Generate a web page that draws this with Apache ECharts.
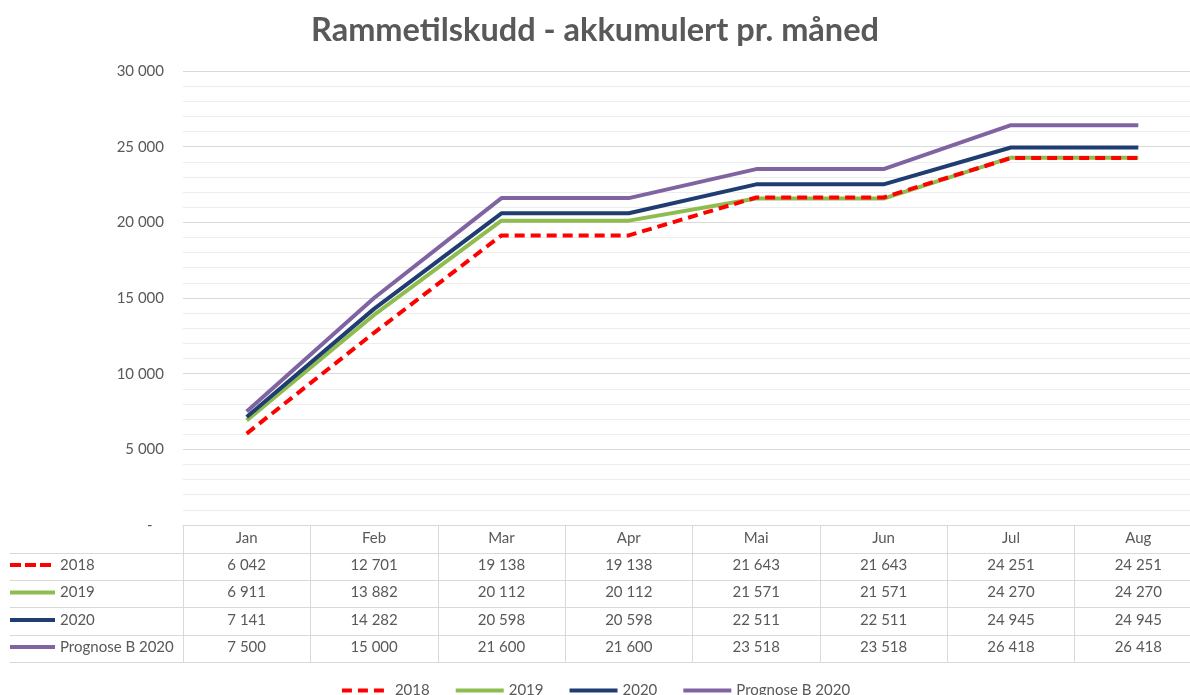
<!DOCTYPE html>
<html><head><meta charset="utf-8">
<script src="https://cdn.jsdelivr.net/npm/echarts@6/dist/echarts.min.js"></script>
<style>html,body{margin:0;padding:0;background:#fff}#c{width:1190px;height:695px}</style>
</head><body><div id="c"></div>
<script>
const months = ['Jan','Feb','Mar','Apr','Mai','Jun','Jul','Aug'];
const s2018 = [6042,12701,19138,19138,21643,21643,24251,24251];
const s2019 = [6911,13882,20112,20112,21571,21571,24270,24270];
const s2020 = [7141,14282,20598,20598,22511,22511,24945,24945];
const prognose = [7500,15000,21600,21600,23518,23518,26418,26418];
const seriesNames = ['2018','2019','2020','Prognose B 2020'];
const yMin = 0, yMax = 30000, yStep = 5000;

const FONT = "Lato, 'Open Sans', sans-serif";
const FS = 15;
const TXT = '#595959';
const GRID = '#D9D9D9';
const colors = ['#FF0000','#8FBC4F','#1F3D70','#8064A2'];
const dashes = [[10,6], 'solid', 'solid', 'solid'];
const zs = [5,2,3,4];
const rows = [s2018, s2019, s2020, prognose];
const headerMargin = 13;
const rowMargins = [40, 67.5, 95, 122];
const tableLines = [28, 55, 82, 110, 137];

function fmt(v){ if(v===0) return '-   '; return String(v).replace(/\B(?=(\d{3})+(?!\d))/g,' '); }

const chart = echarts.init(document.getElementById('c'));
const xAxes = [{
  type:'category', data: months, gridIndex:0, position:'bottom',
  axisLine:{show:true, lineStyle:{color:GRID, width:1}},
  axisTick:{show:true, length:137, interval:0, lineStyle:{color:GRID, width:1}},
  axisLabel:{interval:0, margin:headerMargin, verticalAlign:'middle', fontSize:FS, color:TXT, fontFamily:FONT},
  splitLine:{show:false}
}];
rows.forEach((r,i)=>{
  xAxes.push({
    type:'category', data: months, gridIndex:0, position:'bottom',
    axisLine:{show:false}, axisTick:{show:false}, splitLine:{show:false},
    axisLabel:{interval:0, margin:rowMargins[i], verticalAlign:'middle', fontSize:FS, color:TXT, fontFamily:FONT,
      formatter:(v,idx)=>fmt(r[idx])}
  });
});

chart.setOption({
  animation:false,
  backgroundColor:'#fff',
  title:{text:'Rammetilskudd - akkumulert pr. måned', left:'center', top:9,
    textStyle:{fontSize:32.5, fontWeight:'bold', color:TXT, fontFamily:FONT}},
  legend:{data:seriesNames, top:678, left:'center', itemWidth:48, itemHeight:16, itemGap:24,
    itemStyle:{color:'rgba(0,0,0,0)', borderColor:'rgba(0,0,0,0)', borderWidth:0},
    lineStyle:{width:4},
    textStyle:{fontSize:FS, color:TXT, fontFamily:FONT}},
  grid:{left:183, right:-12, top:71, height:454, containLabel:false, outerBoundsMode:'none'},
  xAxis: xAxes,
  yAxis:{type:'value', min:yMin, max:yMax, interval:yStep,
    axisLine:{show:false}, axisTick:{show:false},
    axisLabel:{margin:19, fontSize:FS, color:TXT, fontFamily:FONT, formatter:fmt},
    splitLine:{show:true, lineStyle:{color:GRID, width:1}},
    minorTick:{show:false, splitNumber:5},
    minorSplitLine:{show:true, lineStyle:{color:'#ECECEC', width:1}}},
  series: rows.map((r,i)=>({
    name:seriesNames[i], type:'line', data:r, xAxisIndex:0, yAxisIndex:0,
    symbol:'none', showSymbol:false, z:zs[i],
    lineStyle:{color:colors[i], width:4, type:dashes[i]},
    itemStyle:{color:colors[i]}
  }))
});

const y0 = chart.convertToPixel({yAxisIndex:0}, 0);
const g = [];
tableLines.forEach(d=>{
  const y = Math.round(y0 + d) + 0.5;
  g.push({type:'line', silent:true, shape:{x1:10, y1:y, x2:1190, y2:y}, style:{stroke:GRID, lineWidth:1}});
});
rows.forEach((r,i)=>{
  const y = y0 + rowMargins[i];
  g.push({type:'line', silent:true, shape:{x1:10, y1:y, x2:i===0?52:55, y2:y},
    style:{stroke:colors[i], lineWidth:4, lineDash: i===0?[11,4]:null}});
  g.push({type:'text', silent:true, x:60, y:y,
    style:{text:seriesNames[i], fontSize:FS, fontFamily:FONT, fill:TXT, verticalAlign:'middle', align:'left'}});
});
chart.setOption({graphic:g});
</script></body></html>
